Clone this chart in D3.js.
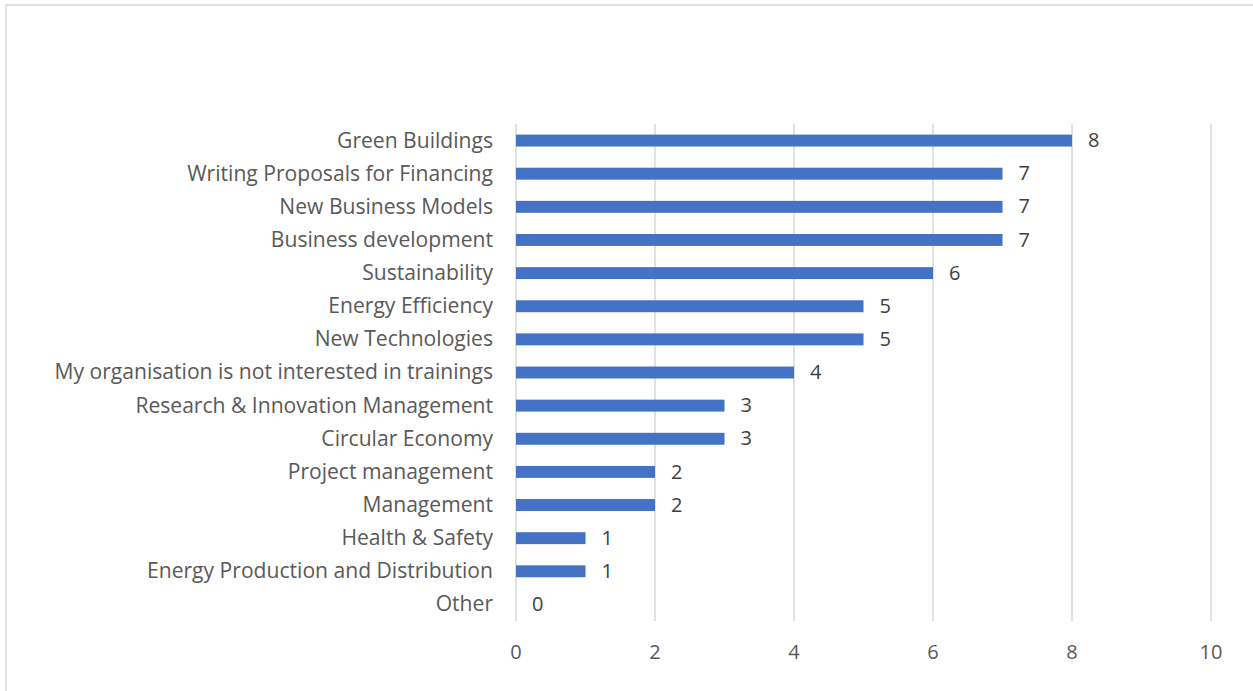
<!DOCTYPE html>
<html><head><meta charset="utf-8">
<script src="https://cdn.jsdelivr.net/npm/d3@7"></script>
<style>body{margin:0;background:#fff}svg{display:block}</style>
</head><body>
<script>
const categories = ["Green Buildings","Writing Proposals for Financing","New Business Models","Business development","Sustainability","Energy Efficiency","New Technologies","My organisation is not interested in trainings","Research & Innovation Management","Circular Economy","Project management","Management","Health & Safety","Energy Production and Distribution","Other"];
const values = [8,7,7,7,6,5,5,4,3,3,2,2,1,1,0];
const xTicks = [0,2,4,6,8,10];

(function(){
const W = 1253, H = 691;
const svg = d3.select("body").append("svg").attr("width", W).attr("height", H);
svg.append("rect").attr("x",6).attr("y",5).attr("width",W+10).attr("height",H+10)
  .attr("fill","#fff").attr("stroke","#d9d9d9").attr("stroke-width",1.5);

const pLeft = 516, pRight = 1211, pTop = 124, pBottom = 621;
const x = d3.scaleLinear().domain([0,10]).range([pLeft,pRight]);
const y = d3.scaleBand().domain(categories).range([pTop,pBottom]).paddingInner(0.64).paddingOuter(0.32);
const font = "'Open Sans', 'Segoe UI', sans-serif";

svg.append("g").selectAll("line").data(xTicks).join("line")
  .attr("x1",d=>x(d)).attr("x2",d=>x(d)).attr("y1",pTop).attr("y2",pBottom)
  .attr("stroke","#d9d9d9").attr("stroke-width",1.5);

svg.append("g").selectAll("rect").data(values).join("rect")
  .attr("x",x(0)).attr("y",(d,i)=>y(categories[i]))
  .attr("width",d=>x(d)-x(0)).attr("height",y.bandwidth())
  .attr("fill","#4472c4");

svg.append("g").selectAll("text").data(values).join("text")
  .attr("x",d=>x(d)+16).attr("y",(d,i)=>y(categories[i])+y.bandwidth()/2)
  .attr("dy","0.33em").attr("font-family",font).attr("font-size",20).attr("fill","#404040")
  .text(d=>d);

svg.append("g").selectAll("text").data(categories).join("text")
  .attr("x",493).attr("y",d=>y(d)+y.bandwidth()/2).attr("dy","0.33em")
  .attr("text-anchor","end").attr("font-family",font).attr("font-size",21.1).attr("fill","#595959")
  .text(d=>d);

svg.append("g").selectAll("text").data(xTicks).join("text")
  .attr("x",d=>x(d)).attr("y",652).attr("dy","0.33em").attr("text-anchor","middle")
  .attr("font-family",font).attr("font-size",20).attr("fill","#595959").text(d=>d);
})();
</script>
</body></html>
